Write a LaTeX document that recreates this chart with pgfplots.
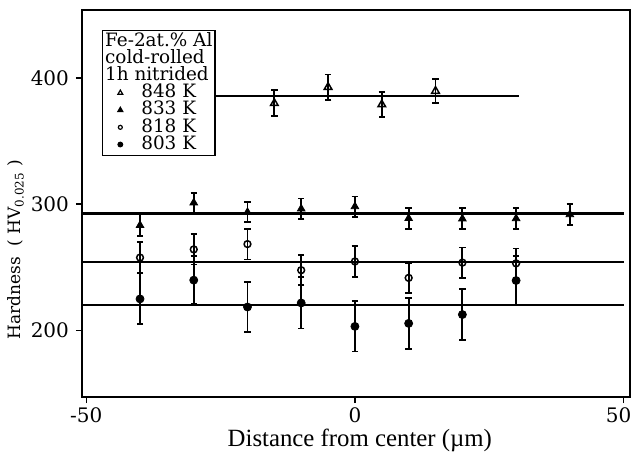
\documentclass[border=0pt]{standalone}
\usepackage{fontspec}
\setmainfont{DejaVu Serif}
\newfontfamily\timesfont{Liberation Serif}
\usepackage{pgfplots}
\pgfplotsset{compat=1.18}

\begin{document}
\begin{tikzpicture}
\begin{axis}[
  scale only axis, width=274pt, height=193.5pt,
  xmin=-50.8, xmax=51.2, ymin=147, ymax=454,
  axis line style={line width=0.7pt},
  tick align=outside, tick pos=left, major tick length=3pt,
  tick style={line width=0.65pt, black},
  xtick={-50,0,50}, xticklabels={-50,0,{\hspace*{-5pt}50}},
  ytick={200,300,400}, yticklabels={200,300,400},
  ticklabel style={font=\fontsize{10}{12}\selectfont},
  xticklabel style={yshift=1pt},
  xlabel={Distance from center (\textmu m)},
  ylabel={Hardness\ \ ( HV\textsubscript{0.025} )},
  every axis x label/.style={at={(axis description cs:0.507,-0.111)}, anchor=center, font=\timesfont\fontsize{12.4}{14}\selectfont},
  every axis y label/.style={at={(axis description cs:-0.121,0.38)}, rotate=90, anchor=center, font=\fontsize{8.5}{10}\selectfont},
  legend cell align=left,
  legend style={at={(axis cs:-47.1,438.4)}, anchor=north west, draw=black, line width=0.65pt, fill=white,
    inner xsep=1pt, inner ysep=1.2pt, row sep=0pt, column sep=0pt,
    font=\fontsize{9.2}{10}\selectfont,
    nodes={inner xsep=0.3pt, inner ysep=0.2pt, text height=6.5pt, text depth=1.7pt}},
  legend image code/.code={\path (0pt,0pt) (17.5pt,0pt); \draw[#1] plot coordinates {(7.6pt,0pt)};},
  every axis plot/.append style={black},
  error bars/error bar style={line width=0.9pt},
  error bars/error mark options={rotate=90, mark size=1.6pt, line width=0.9pt},
]
% legend: sample description followed by the nitriding temperatures
\addlegendimage{empty legend}\addlegendentry{\hspace*{-18.1pt}Fe-2at.\% Al}
\addlegendimage{empty legend}\addlegendentry{\hspace*{-18.1pt}cold-rolled}
\addlegendimage{empty legend}\addlegendentry{\hspace*{-18.1pt}1h nitrided}
\addlegendimage{mark=triangle, mark size=1.4pt, line width=0.6pt}\addlegendentry{848 K}
\addlegendimage{mark=triangle*, mark size=1.4pt, line width=0.6pt}\addlegendentry{833 K}
\addlegendimage{mark=o, mark size=1.0pt, line width=0.6pt}\addlegendentry{818 K}
\addlegendimage{mark=*, mark size=1.15pt, line width=0.6pt}\addlegendentry{803 K}

% mean hardness levels
\addplot[forget plot, line width=1.1pt] coordinates {(-40,386) (30.5,386)};
\addplot[forget plot, line width=1.1pt] coordinates {(-50.8,292.6) (50,292.6)};
\addplot[forget plot, line width=1.1pt] coordinates {(-50.8,254.2) (50,254.2)};
\addplot[forget plot, line width=1.1pt] coordinates {(-50.8,219.8) (50,219.8)};

% 848 K
\addplot[forget plot, only marks, mark=triangle, mark size=2.2pt, mark options={line width=0.75pt},
  error bars/.cd, y dir=both, y explicit]
  coordinates {(-15,380) +- (0,10.3) (-5,392.8) +- (0,10) (5,379) +- (0,10) (15,389.7) +- (0,9.7)};
% 833 K
\addplot[forget plot, only marks, mark=triangle*, mark size=2.2pt,
  error bars/.cd, y dir=both, y explicit]
  coordinates {(-40,283.2) +- (0,8.6) (-30,301.1) +- (0,8) (-20,293.6) +- (0,7.8) (-10,296.3) +- (0,8.2)
               (0,298.1) +- (0,8) (10,288.7) +- (0,8.5) (20,288.4) +- (0,8.4) (30,288.6) +- (0,8.2) (40,291.8) +- (0,8.2)};
% 818 K
\addplot[forget plot, only marks, mark=o, mark size=1.7pt, mark options={line width=0.75pt},
  error bars/.cd, y dir=both, y explicit]
  coordinates {(-40,257.6) +- (0,12.3) (-30,264.1) +- (0,12) (-20,268.3) +- (0,12.2) (-10,247.6) +- (0,12)
               (0,254.5) +- (0,12.2) (10,241.5) +- (0,12) (20,253.6) +- (0,12) (30,253) +- (0,11.8)};
% 803 K
\addplot[forget plot, only marks, mark=*, mark size=2pt,
  error bars/.cd, y dir=both, y explicit]
  coordinates {(-40,224.8) +- (0,20.1) (-30,239.7) +- (0,19.1) (-20,218.4) +- (0,19.9) (-10,221.6) +- (0,20.3)
               (0,203) +- (0,19.9) (10,205.4) +- (0,20.3) (20,212.4) +- (0,20.1) (30,239.4) +- (0,19.6)};
\end{axis}
\pgfresetboundingbox
\path ([shift={(-41pt,-27pt)}]current axis.south west) rectangle ([shift={(1.5pt,5pt)}]current axis.north east);
\end{tikzpicture}
\end{document}
